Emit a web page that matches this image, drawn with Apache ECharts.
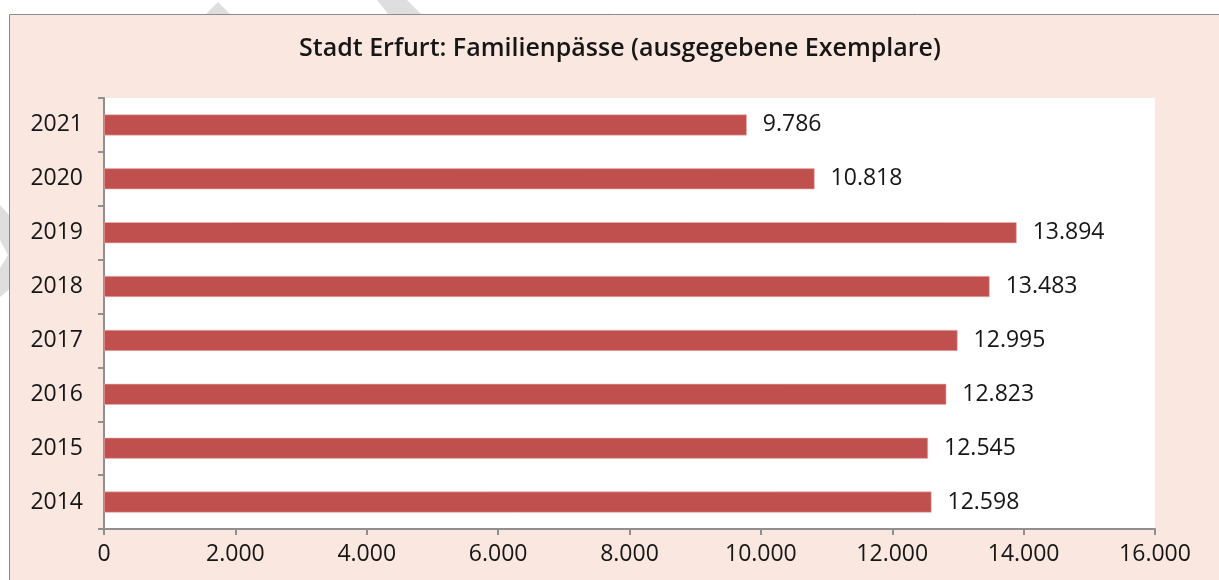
<!DOCTYPE html>
<html>
<head>
<meta charset="utf-8">
<script src="https://cdn.jsdelivr.net/npm/echarts@6/dist/echarts.min.js"></script>
<style>
  html, body { margin: 0; padding: 0; background: #ffffff; }
  #chart { width: 1219px; height: 580px; }
</style>
</head>
<body>
<div id="chart"></div>
<script>
// Issued family passes per year (Stadt Erfurt)
const years = ['2014', '2015', '2016', '2017', '2018', '2019', '2020', '2021'];
const passes = [12598, 12545, 12823, 12995, 13483, 13894, 10818, 9786];
const xTicks = [0, 2000, 4000, 6000, 8000, 10000, 12000, 14000, 16000];

const FONT = '"Open Sans", "Noto Sans", sans-serif';
const TEXT = '#161616';
const AXIS = '#8f8f8f';

// German thousands separator
function deNum(v) {
  return String(Math.round(v)).replace(/\B(?=(\d{3})+(?!\d))/g, '.');
}

const chart = echarts.init(document.getElementById('chart'), null, { renderer: 'canvas' });

chart.setOption({
  backgroundColor: '#ffffff',
  animation: false,
  title: {
    text: 'Stadt Erfurt: Familienpässe (ausgegebene Exemplare)',
    left: 615,
    textAlign: 'center',
    top: 31,
    textStyle: { fontFamily: FONT, fontSize: 25, fontWeight: 600, color: TEXT }
  },
  graphic: [
    // faint watermark strokes behind the chart frame
    { type: 'polygon', z: -20, shape: { points: [[218, 2], [250, 34], [186, 34]] }, style: { fill: '#dedede' } },
    { type: 'polygon', z: -20, shape: { points: [[377, 0], [407, 0], [441, 34], [404, 34]] }, style: { fill: '#dedede' } },
    { type: 'polygon', z: -20, shape: { points: [[0, 205], [30, 238], [30, 272], [0, 297], [0, 268], [8, 255], [0, 240]] }, style: { fill: '#dedede' } },
    // chart frame
    { type: 'rect', z: -10, shape: { x: 9.5, y: 14.5, width: 1240, height: 600 }, style: { fill: '#F9E7E0', stroke: '#8a8a8a', lineWidth: 1 } }
  ],
  grid: {
    left: 104, right: 64, top: 98, bottom: 51,
    show: true, backgroundColor: '#ffffff', borderWidth: 0,
    containLabel: false
  },
  xAxis: {
    type: 'value',
    min: xTicks[0],
    max: xTicks[xTicks.length - 1],
    interval: xTicks[1] - xTicks[0],
    splitLine: { show: false },
    axisLine: { show: true, lineStyle: { color: AXIS, width: 2 } },
    axisTick: { show: true, length: 6, lineStyle: { color: AXIS, width: 2 } },
    axisLabel: {
      margin: 14,
      fontFamily: FONT, fontSize: 23, color: TEXT,
      formatter: v => deNum(v)
    }
  },
  yAxis: {
    type: 'category',
    data: years,
    axisLine: { show: true, lineStyle: { color: AXIS, width: 2 } },
    axisTick: { show: true, length: 6, lineStyle: { color: AXIS, width: 2 } },
    axisLabel: { margin: 21, fontFamily: FONT, fontSize: 23, color: TEXT },
    splitLine: { show: false }
  },
  series: [{
    type: 'bar',
    data: passes,
    barWidth: 21,
    itemStyle: { color: '#C0504D', borderColor: '#E9B3B1', borderWidth: 0.6 },
    label: {
      show: true,
      position: 'right',
      distance: 16,
      fontFamily: FONT, fontSize: 23, color: TEXT,
      formatter: p => deNum(p.value)
    }
  }]
});
</script>
</body>
</html>
